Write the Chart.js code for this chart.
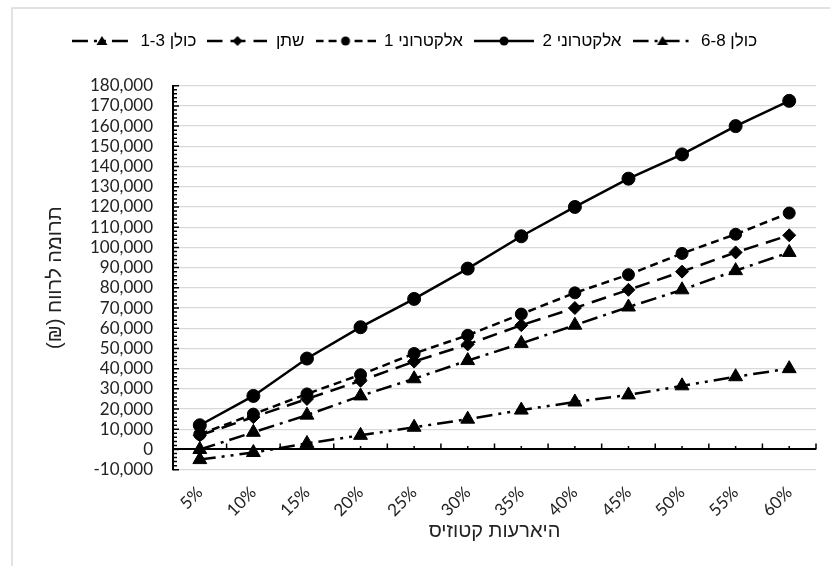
<!DOCTYPE html>
<html lang="he">
<head>
<meta charset="utf-8">
<script src="https://cdn.jsdelivr.net/npm/chart.js@4.4.1/dist/chart.umd.min.js"></script>
<style>
  html, body { margin: 0; padding: 0; background: #fff; }
  #wrap { position: relative; width: 830px; height: 566px; }
</style>
</head>
<body>
<div id="wrap"><canvas id="chart"></canvas></div>
<script>
// Ketosis incidence (x) vs. contribution to profit (y)
const categories = ['5%', '10%', '15%', '20%', '25%', '30%', '35%', '40%', '45%', '50%', '55%', '60%'];
const kolan13 = [-5000, -1500, 3000, 7000, 11000, 15000, 19500, 23500, 27000, 31500, 36000, 40000];
const urine = [7000, 16000, 25000, 34000, 43500, 52000, 61500, 70000, 79000, 88000, 97500, 106000];
const electronic1 = [7500, 17500, 27500, 37000, 47500, 56500, 67000, 77500, 86500, 97000, 106500, 117000];
const electronic2 = [12000, 26500, 45000, 60500, 74500, 89500, 105500, 120000, 134000, 146000, 160000, 172500];
const kolan68 = [0, 8500, 17000, 26500, 35000, 44000, 52500, 61500, 70500, 79000, 88500, 97500];
const seriesNames = ['כולן 1-3', 'שתן', 'אלקטרוני 1', 'אלקטרוני 2', 'כולן 6-8'];

const tickFont = { family: 'Lato, "Liberation Sans", sans-serif', size: 17, lineHeight: 1 };
const hebFont = '"Liberation Sans", "DejaVu Sans", sans-serif';
// bidi embeddings so Hebrew reads right-to-left and numbers stay left-to-right
const rtl = s => '\u202B' + s + '\u202C';
const ltr = s => '\u202A' + s + '\u202C';

// small line + marker sample used as the legend symbol
function legendSymbol(dash, marker) {
  const c = document.createElement('canvas');
  c.width = 60; c.height = 16;
  const g = c.getContext('2d');
  g.strokeStyle = '#000'; g.fillStyle = '#000'; g.lineWidth = 2.5;
  g.setLineDash(dash);
  g.beginPath(); g.moveTo(0, 8); g.lineTo(60, 8); g.stroke();
  g.setLineDash([]);
  g.beginPath();
  if (marker === 'circle') {
    g.arc(30, 8, 4.5, 0, Math.PI * 2);
  } else if (marker === 'rectRot') {
    g.moveTo(30, 3); g.lineTo(35, 8); g.lineTo(30, 13); g.lineTo(25, 8); g.closePath();
  } else {
    g.moveTo(30, 3); g.lineTo(35.5, 12); g.lineTo(24.5, 12); g.closePath();
  }
  g.fill();
  return c;
}

function series(label, data, dash, style, radius) {
  return {
    label, data,
    borderColor: '#000', backgroundColor: '#000',
    borderWidth: 2.5, borderDash: dash,
    pointStyle: style, pointRadius: radius, pointHoverRadius: radius,
    pointBackgroundColor: '#000', pointBorderColor: '#000', pointBorderWidth: 1,
    tension: 0, fill: false,
    symbol: legendSymbol(dash, style)
  };
}

const datasets = [
  series(seriesNames[0], kolan13, [16, 6, 3, 6, 3, 6], 'triangle', 8),
  series(seriesNames[1], urine, [15, 8], 'rectRot', 6.5),
  series(seriesNames[2], electronic1, [8, 5], 'circle', 6),
  series(seriesNames[3], electronic2, [], 'circle', 6.5),
  series(seriesNames[4], kolan68, [16, 6, 3, 6], 'triangle', 8)
];

// frame, y-axis minor ticks and the tick marks on the zero line
const axisMarks = {
  id: 'axisMarks',
  beforeDraw(chart) {
    const ctx = chart.ctx;
    ctx.save();
    ctx.strokeStyle = '#d9d9d9'; ctx.lineWidth = 1.5;
    ctx.beginPath(); ctx.moveTo(12, 566); ctx.lineTo(12, 8); ctx.lineTo(830, 8); ctx.stroke();
    ctx.restore();
  },
  beforeDatasetsDraw(chart) {
    const { ctx, chartArea, scales: { x, y } } = chart;
    ctx.save();
    ctx.strokeStyle = '#000'; ctx.lineWidth = 1.5;
    ctx.beginPath();
    for (let v = y.min; v <= y.max; v += 2000) {
      const py = y.getPixelForValue(v);
      ctx.moveTo(chartArea.left, py);
      ctx.lineTo(chartArea.left + (v % 10000 === 0 ? 6 : 4), py);
    }
    const y0 = y.getPixelForValue(0);
    const step = (chartArea.right - chartArea.left) / categories.length;
    for (let i = 0; i <= categories.length; i++) {
      const px = chartArea.left + i * step;
      ctx.moveTo(px, y0); ctx.lineTo(px, y0 - 6);
    }
    categories.forEach((c, i) => {
      const px = x.getPixelForValue(i);
      ctx.moveTo(px, y0); ctx.lineTo(px, y0 - 3.5);
    });
    ctx.stroke();
    ctx.restore();
  }
};

new Chart(document.getElementById('chart'), {
  type: 'line',
  data: { labels: categories, datasets },
  plugins: [axisMarks],
  options: {
    responsive: true,
    maintainAspectRatio: false,
    animation: false,
    layout: { padding: { top: 21.5, left: 13, right: 14, bottom: 0 } },
    plugins: {
      legend: {
        position: 'top',
        labels: {
          usePointStyle: true,
          pointStyleWidth: 60,
          padding: 11,
          color: '#000',
          font: { family: hebFont, size: 17 },
          generateLabels: chart => chart.data.datasets.map((ds, i) => ({
            text: rtl(ds.label), pointStyle: ds.symbol, datasetIndex: i,
            hidden: false, lineWidth: 0, strokeStyle: 'rgba(0,0,0,0)', fillStyle: 'rgba(0,0,0,0)', fontColor: '#000'
          }))
        }
      },
      // empty title keeps the gap between legend and plot
      title: { display: true, text: '', weight: 500, font: { size: 10, lineHeight: 1 }, padding: { top: 0, bottom: 16.2 } },
      tooltip: { enabled: false }
    },
    scales: {
      x: {
        offset: true,
        grid: { display: false },
        border: { display: false },
        ticks: { color: '#222', font: tickFont, maxRotation: 45, minRotation: 45, padding: 6, autoSkip: false },
        title: { display: true, text: rtl('היארעות קטוזיס'), color: '#222', font: { family: hebFont, size: 20 }, padding: { top: 0, bottom: 23 } },
        afterFit: s => { s.height = 96.3; }
      },
      y: {
        min: -10000,
        max: 180000,
        grid: {
          color: c => c.tick && c.tick.value === 0 ? '#000' : '#d9d9d9',
          lineWidth: c => c.tick && c.tick.value === 0 ? 2 : 1.3,
          drawTicks: false
        },
        border: { color: '#000', width: 2 },
        ticks: {
          stepSize: 10000, autoSkip: false, padding: 20, color: '#222', font: tickFont,
          callback: v => ltr(v.toLocaleString('en-US'))
        },
        title: { display: true, text: rtl('תרומה לרווח (₪)'), color: '#222', font: { family: hebFont, size: 20 }, padding: { top: 30, bottom: 0 } },
        afterFit: s => { s.width = 160; }
      }
    }
  }
});
</script>
</body>
</html>
